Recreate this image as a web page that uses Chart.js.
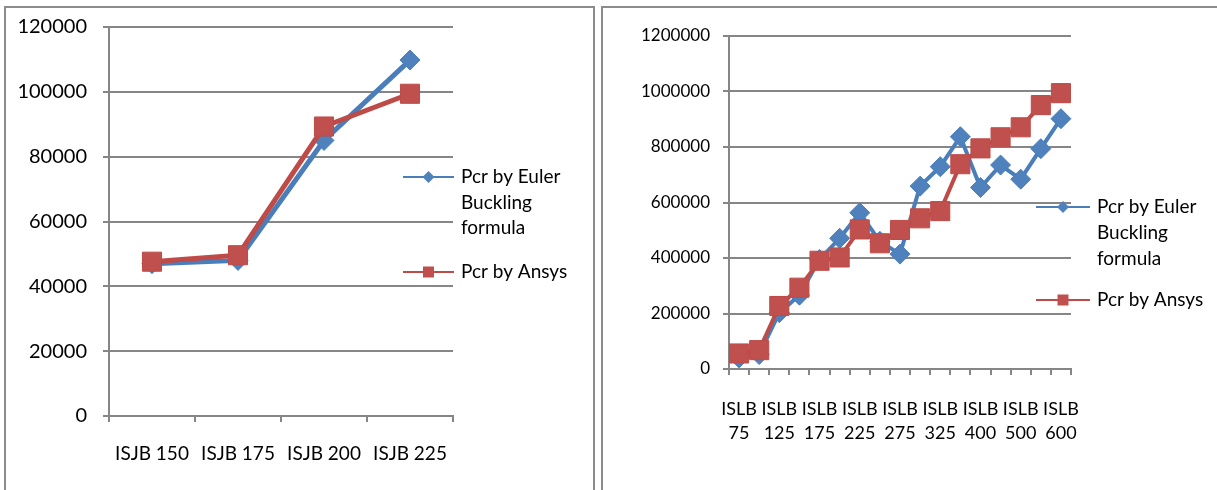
<!DOCTYPE html>
<html>
<head>
<meta charset="utf-8">
<script src="https://cdn.jsdelivr.net/npm/chart.js@4.4.1/dist/chart.umd.min.js"></script>
<style>
  html, body { margin: 0; padding: 0; background: #fff; }
  body { width: 1217px; height: 490px; overflow: hidden; position: relative; }
  .frame { position: absolute; border: 2px solid #8c8c8c; box-sizing: border-box; }
  #frameJ { left: 4px; top: 6px; width: 591px; height: 520px; }
  #frameL { left: 601px; top: 6px; width: 640px; height: 520px; }
  canvas { position: absolute; }
  #chartJ { left: 6px; top: 8px; }
  #chartL { left: 603px; top: 8px; }
</style>
</head>
<body>
<div class="frame" id="frameJ"></div>
<div class="frame" id="frameL"></div>
<canvas id="chartJ" width="586" height="482"></canvas>
<canvas id="chartL" width="614" height="482"></canvas>
<script>
// ISJB sections: critical load (N)
const isjbSections = ['ISJB 150', 'ISJB 175', 'ISJB 200', 'ISJB 225'];
const isjbEuler = [47000, 48000, 85000, 109800];
const isjbAnsys = [47600, 49600, 89300, 99400];
const isjbTicks = [0, 20000, 40000, 60000, 80000, 100000, 120000];

// ISLB sections: critical load (N)
const islbSections = ['ISLB 75', 'ISLB 100', 'ISLB 125', 'ISLB 150', 'ISLB 175', 'ISLB 200',
  'ISLB 225', 'ISLB 250', 'ISLB 275', 'ISLB 300', 'ISLB 325', 'ISLB 350', 'ISLB 400',
  'ISLB 450', 'ISLB 500', 'ISLB 550', 'ISLB 600'];
const islbEuler = [40000, 52000, 203000, 266000, 395000, 471000, 563000, 460000, 414000,
  659000, 729000, 837000, 654000, 735000, 684000, 794000, 902000];
const islbAnsys = [56000, 68000, 227000, 293000, 390000, 402000, 503000, 453000, 501000,
  543000, 569000, 738000, 795000, 835000, 871000, 951000, 994000];
const islbTicks = [0, 200000, 400000, 600000, 800000, 1000000, 1200000];

const seriesNames = ['Pcr by Euler Buckling formula', 'Pcr by Ansys'];

const BLUE = '#4A7EBB';
const BLUE_FILL = '#4F81BD';
const RED = '#BE4B48';
const RED_FILL = '#C0504D';
const GRID = '#868686';
const FONT = 'Lato, "Open Sans", sans-serif';

// Legend at the right of the plot, with wrapped series names
const sideLegend = {
  id: 'sideLegend',
  afterDraw(chart, args, opts) {
    const ctx = chart.ctx;
    ctx.save();
    ctx.font = opts.fontSize + 'px ' + FONT;
    ctx.textBaseline = 'middle';
    ctx.textAlign = 'left';
    chart.data.datasets.forEach((ds, i) => {
      const y = opts.rows[i];
      // sample line
      ctx.strokeStyle = ds.borderColor;
      ctx.lineWidth = 2;
      ctx.beginPath();
      ctx.moveTo(opts.x0, y);
      ctx.lineTo(opts.x1, y);
      ctx.stroke();
      // sample marker
      const cx = (opts.x0 + opts.x1) / 2;
      ctx.fillStyle = ds.pointBackgroundColor;
      ctx.beginPath();
      if (ds.pointStyle === 'rectRot') {
        const r = opts.diamond;
        ctx.moveTo(cx, y - r); ctx.lineTo(cx + r, y); ctx.lineTo(cx, y + r); ctx.lineTo(cx - r, y);
        ctx.closePath();
      } else {
        const s = opts.square;
        ctx.rect(cx - s / 2, y - s / 2, s, s);
      }
      ctx.fill();
      // wrapped label
      ctx.fillStyle = '#000';
      const words = ds.label.split(' ');
      const lines = [];
      let cur = '';
      words.forEach(w => {
        const t = cur ? cur + ' ' + w : w;
        if (ctx.measureText(t).width > opts.maxWidth && cur) { lines.push(cur); cur = w; }
        else cur = t;
      });
      if (cur) lines.push(cur);
      lines.forEach((ln, k) => ctx.fillText(ln, opts.textX, y + k * opts.lineHeight));
    });
    ctx.restore();
  }
};

function makeChart(id, cfg) {
  return new Chart(document.getElementById(id), {
    type: 'line',
    data: {
      labels: cfg.labels,
      datasets: [
        {
          label: seriesNames[0], data: cfg.euler, order: 1,
          borderColor: BLUE, backgroundColor: BLUE_FILL,
          pointBackgroundColor: BLUE_FILL, pointBorderColor: BLUE,
          borderWidth: cfg.lineWidth, pointStyle: 'rectRot',
          pointRadius: cfg.diamondR, pointBorderWidth: 1, tension: 0
        },
        {
          label: seriesNames[1], data: cfg.ansys, order: 0,
          borderColor: RED, backgroundColor: RED_FILL,
          pointBackgroundColor: RED_FILL, pointBorderColor: RED,
          borderWidth: cfg.lineWidth, pointStyle: 'rect',
          pointRadius: cfg.squareR, pointBorderWidth: 1, tension: 0
        }
      ]
    },
    options: {
      responsive: false,
      animation: false,
      events: [],
      layout: { padding: cfg.padding },
      plugins: {
        legend: { display: false },
        tooltip: { enabled: false },
        sideLegend: cfg.legend
      },
      scales: {
        x: {
          type: 'category',
          offset: true,
          grid: { offset: true, drawOnChartArea: false, drawTicks: true, tickLength: 6, color: GRID, lineWidth: 2 },
          border: { display: true, color: GRID, width: 2 },
          ticks: {
            autoSkip: false, maxRotation: 0, minRotation: 0,
            padding: cfg.xPad, color: '#000',
            font: { family: FONT, size: cfg.xFont, lineHeight: cfg.xLineHeight },
            callback: cfg.xCallback
          },
          afterFit: s => { s.height = cfg.xHeight; s.paddingLeft = 0; s.paddingRight = 0; }
        },
        y: {
          min: 0, max: cfg.ticks[cfg.ticks.length - 1],
          afterBuildTicks: s => { s.ticks = cfg.ticks.map(v => ({ value: v })); },
          grid: { color: GRID, lineWidth: 2, drawTicks: true, tickLength: 6 },
          border: { display: true, color: GRID, width: 2 },
          ticks: {
            padding: cfg.yPad, color: '#000',
            font: { family: FONT, size: cfg.yFont },
            callback: v => String(v)
          },
          afterFit: s => { s.width = cfg.yWidth; s.paddingTop = 0; s.paddingBottom = 0; }
        }
      }
    },
    plugins: [sideLegend]
  });
}

makeChart('chartJ', {
  labels: isjbSections, euler: isjbEuler, ansys: isjbAnsys, ticks: isjbTicks,
  lineWidth: 5, diamondR: 10, squareR: 13.5,
  padding: { left: 0, right: 139, top: 19, bottom: 0 },
  yWidth: 103, xHeight: 74, xPad: 20, xFont: 19, xLineHeight: 1.2, yFont: 20, yPad: 16,
  xCallback: function (v, i) { return this.getLabelForValue(v); },
  legend: { x0: 397, x1: 448, textX: 455, rows: [169, 264], lineHeight: 25.5,
            fontSize: 19, maxWidth: 112, diamond: 6, square: 11 }
});

makeChart('chartL', {
  labels: islbSections, euler: islbEuler, ansys: islbAnsys, ticks: islbTicks,
  lineWidth: 4, diamondR: 10, squareR: 13.5,
  padding: { left: 0, right: 146, top: 28, bottom: 0 },
  yWidth: 126, xHeight: 121, xPad: 22, xFont: 18, xLineHeight: 1.35, yFont: 17, yPad: 13,
  xCallback: function (v, i) { return i % 2 === 0 ? this.getLabelForValue(v).split(' ') : ''; },
  legend: { x0: 433, x1: 487, textX: 494, rows: [199, 292], lineHeight: 26,
            fontSize: 19, maxWidth: 112, diamond: 6, square: 11 }
});
</script>
</body>
</html>
